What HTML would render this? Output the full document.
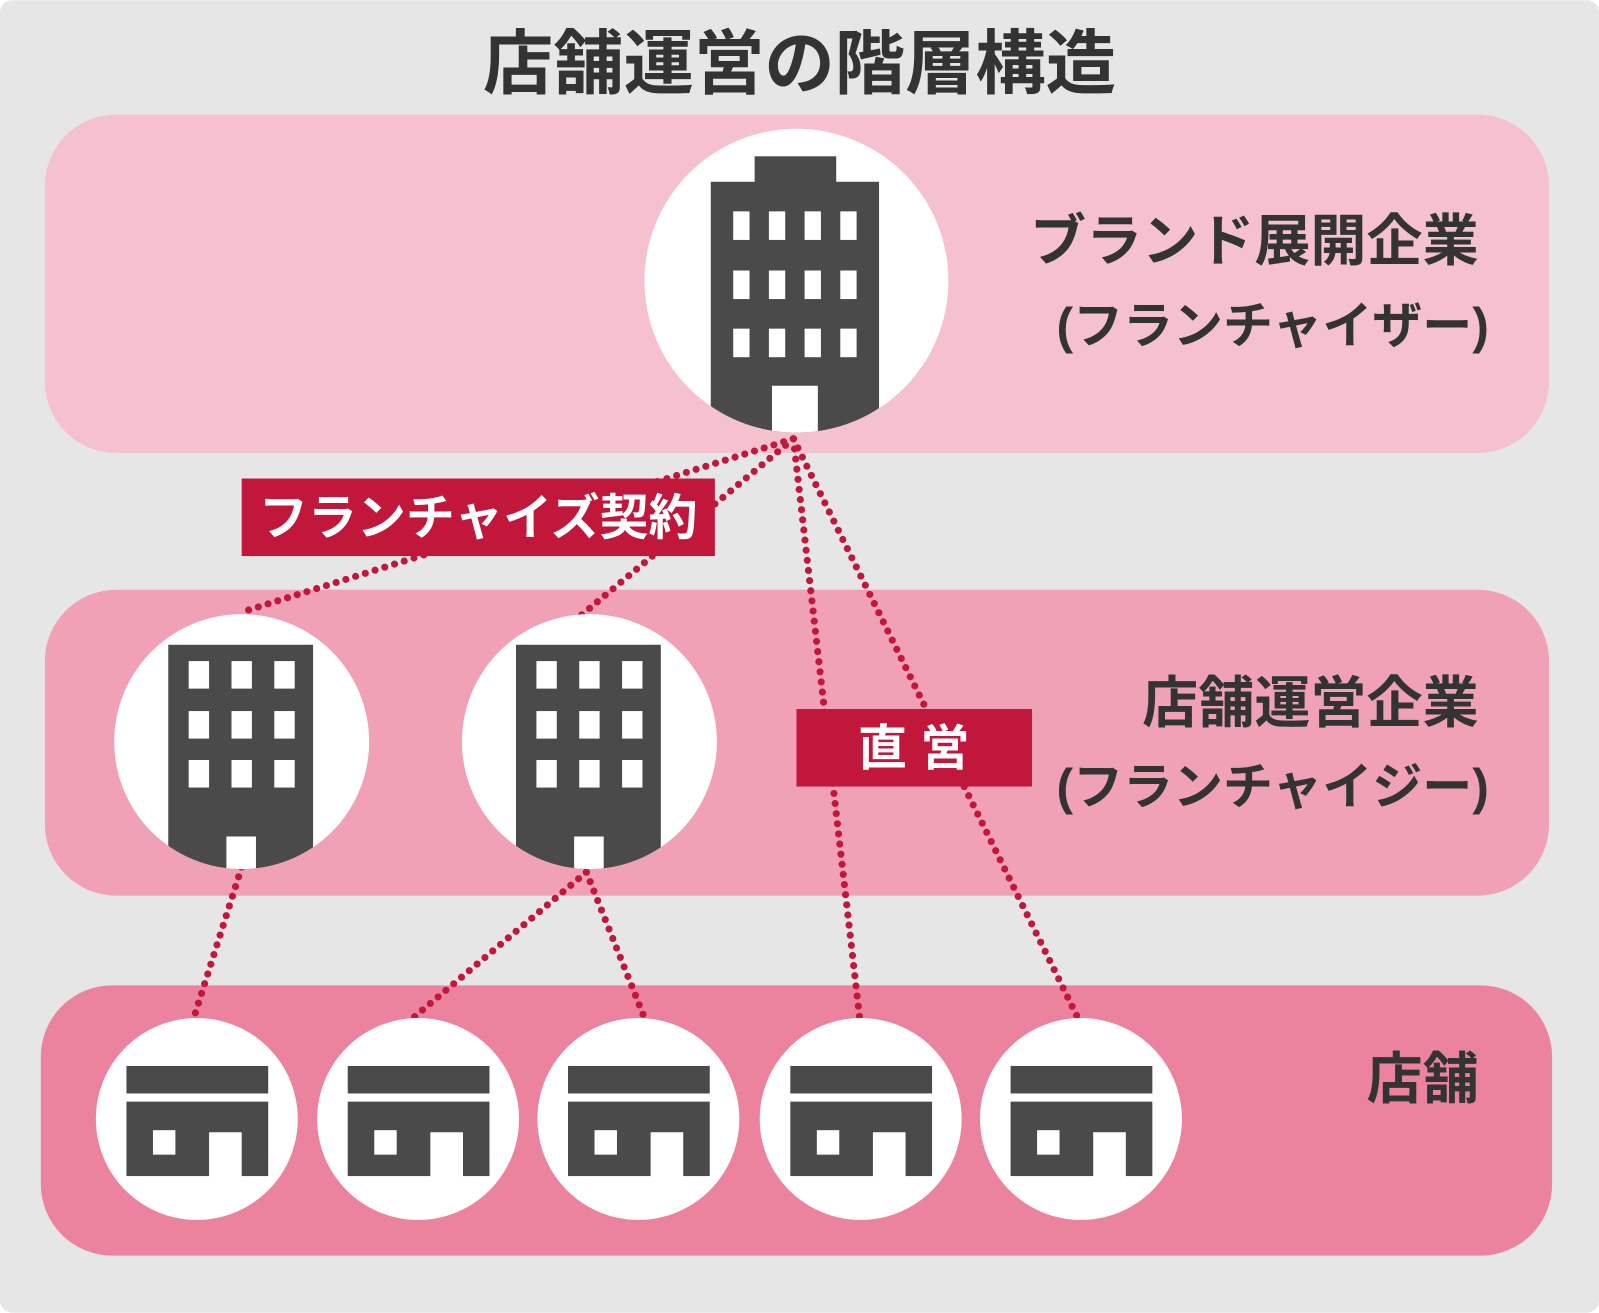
<!DOCTYPE html>
<html><head><meta charset="utf-8"><style>
html,body{margin:0;padding:0;background:#fff}
svg{display:block}
text{font-family:"Liberation Sans","Noto Sans CJK JP",sans-serif;font-weight:bold}
</style></head><body>
<svg width="1599" height="1313" viewBox="0 0 1568 1287" xmlns="http://www.w3.org/2000/svg">
<defs>
<g id="bld2">
<rect x="-72" y="-95" width="142" height="240" fill="#4a4a4a"/>
<g fill="#fff">
<rect x="-52" y="-79" width="20" height="27"/><rect x="-10" y="-79" width="20" height="27"/><rect x="32" y="-79" width="20" height="27"/>
<rect x="-52" y="-30" width="20" height="27"/><rect x="-10" y="-30" width="20" height="27"/><rect x="32" y="-30" width="20" height="27"/>
<rect x="-52" y="18" width="20" height="27"/><rect x="-10" y="18" width="20" height="27"/><rect x="32" y="18" width="20" height="27"/>
<rect x="-15" y="93" width="29" height="40"/>
</g>
</g>
<g id="store">
<rect x="-69" y="-52" width="139" height="27" fill="#4a4a4a"/>
<rect x="-69" y="-17" width="139" height="73" fill="#4a4a4a"/>
<rect x="-43" y="11" width="22" height="24" fill="#fff"/>
<rect x="12" y="13" width="32" height="44" fill="#fff"/>
</g>
<clipPath id="c0"><circle cx="781" cy="275" r="149"/></clipPath>
<clipPath id="c1"><circle cx="237" cy="727" r="125"/></clipPath>
<clipPath id="c2"><circle cx="578" cy="727" r="125"/></clipPath>
</defs>
<rect x="0" y="0" width="1568" height="1287" rx="12" fill="#e6e6e6"/>
<text x="784" y="86" font-size="69" fill="#333" text-anchor="middle">店舗運営の階層構造</text>
<rect x="44" y="112" width="1475" height="332" rx="70" fill="#f5c1ce"/>
<rect x="44" y="578" width="1475" height="300" rx="70" fill="#f0a1b5"/>
<rect x="40" y="966" width="1482" height="265" rx="70" fill="#ec839e"/>
<g stroke="#c0173a" stroke-width="7" stroke-linecap="round" stroke-dasharray="0 10" fill="none">
<line x1="778" y1="430" x2="237" y2="600"/>
<line x1="778" y1="430" x2="570" y2="603"/>
<line x1="778" y1="430" x2="843" y2="998"/>
<line x1="778" y1="430" x2="1057" y2="998"/>
<line x1="237" y1="850" x2="190" y2="998"/>
<line x1="575" y1="855" x2="405" y2="998"/>
<line x1="575" y1="855" x2="632" y2="998"/>
</g>
<circle cx="781" cy="275" r="149" fill="#fff"/>
<g clip-path="url(#c0)">
<rect x="740" y="153" width="80" height="30" fill="#4a4a4a"/>
<rect x="697" y="178" width="165" height="260" fill="#4a4a4a"/>
<g fill="#fff">
<rect x="719" y="207" width="16" height="28"/><rect x="754" y="207" width="16" height="28"/><rect x="789" y="207" width="16" height="28"/><rect x="824" y="207" width="16" height="28"/>
<rect x="719" y="265" width="16" height="28"/><rect x="754" y="265" width="16" height="28"/><rect x="789" y="265" width="16" height="28"/><rect x="824" y="265" width="16" height="28"/>
<rect x="719" y="322" width="16" height="28"/><rect x="754" y="322" width="16" height="28"/><rect x="789" y="322" width="16" height="28"/><rect x="824" y="322" width="16" height="28"/>
<rect x="757" y="378" width="45" height="60"/>
</g>
</g>
<circle cx="237" cy="727" r="125" fill="#fff"/>
<g clip-path="url(#c1)"><use href="#bld2" x="237" y="727"/></g>
<circle cx="578" cy="727" r="125" fill="#fff"/>
<g clip-path="url(#c2)"><use href="#bld2" x="578" y="727"/></g>
<g fill="#fff">
<circle cx="193" cy="1097" r="99"/><circle cx="410" cy="1097" r="99"/><circle cx="626" cy="1097" r="99"/><circle cx="844" cy="1097" r="99"/><circle cx="1060" cy="1097" r="99"/>
</g>
<use href="#store" x="193" y="1097"/><use href="#store" x="410" y="1097"/><use href="#store" x="626" y="1097"/><use href="#store" x="844" y="1097"/><use href="#store" x="1060" y="1097"/>
<rect x="237" y="469" width="464" height="76" fill="#c0173a"/>
<text x="469" y="524" font-size="48" fill="#fff" text-anchor="middle">フランチャイズ契約</text>
<rect x="781" y="695" width="231" height="76" fill="#c0173a"/>
<text x="896" y="750" font-size="48" fill="#fff" text-anchor="middle">直 営</text>
<g fill="#333" text-anchor="end">
<text x="1450" y="255" font-size="55">ブランド展開企業</text>
<text x="1460" y="336" font-size="49">(フランチャイザー)</text>
<text x="1450" y="708" font-size="55">店舗運営企業</text>
<text x="1460" y="788" font-size="49">(フランチャイジー)</text>
<text x="1450" y="1077" font-size="55">店舗</text>
</g>
</svg>
</body></html>
